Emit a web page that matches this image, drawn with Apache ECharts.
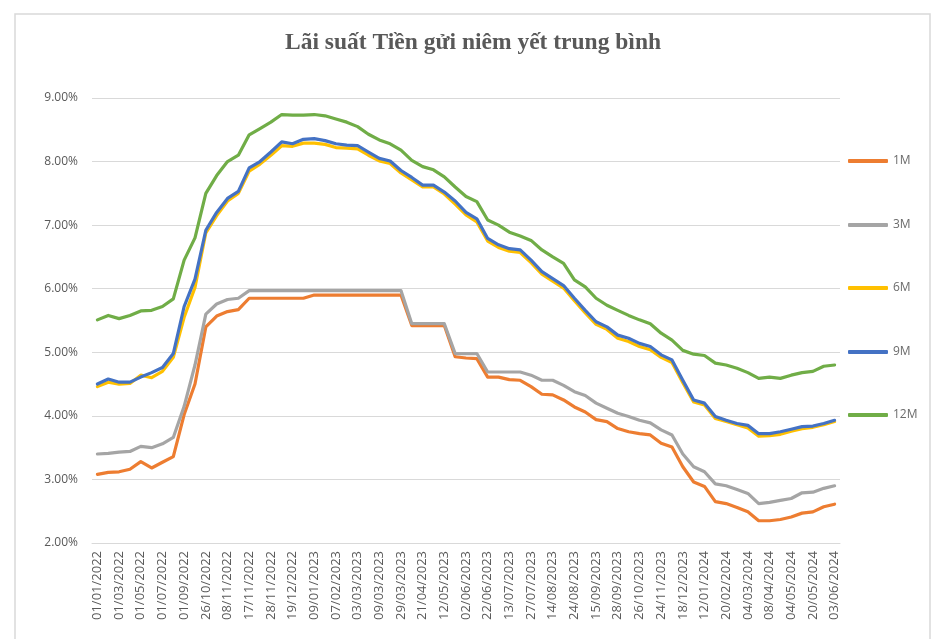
<!DOCTYPE html>
<html>
<head>
<meta charset="utf-8">
<script src="https://cdn.jsdelivr.net/npm/echarts@6/dist/echarts.min.js"></script>
<style>
html,body{margin:0;padding:0;background:#fff;}
#chart{width:935px;height:639px;}
</style>
</head>
<body>
<div id="chart"></div>
<script>
const categories = [
 '01/01/2022','01/02/2022','01/03/2022','01/04/2022','01/05/2022','01/06/2022','01/07/2022','01/08/2022',
 '01/09/2022','01/10/2022','26/10/2022','01/11/2022','08/11/2022','14/11/2022','17/11/2022','22/11/2022',
 '28/11/2022','06/12/2022','19/12/2022','30/12/2022','09/01/2023','20/01/2023','07/02/2023','20/02/2023',
 '03/03/2023','06/03/2023','09/03/2023','17/03/2023','29/03/2023','10/04/2023','21/04/2023','02/05/2023',
 '12/05/2023','22/05/2023','02/06/2023','12/06/2023','22/06/2023','03/07/2023','13/07/2023','20/07/2023',
 '27/07/2023','04/08/2023','14/08/2023','19/08/2023','24/08/2023','05/09/2023','15/09/2023','21/09/2023',
 '28/09/2023','12/10/2023','26/10/2023','10/11/2023','24/11/2023','06/12/2023','18/12/2023','30/12/2023',
 '12/01/2024','01/02/2024','20/02/2024','27/02/2024','04/03/2024','20/03/2024','08/04/2024','20/04/2024',
 '04/05/2024','12/05/2024','20/05/2024','27/05/2024','03/06/2024'
];
const s1M = [3.08,3.11,3.12,3.16,3.28,3.18,3.27,3.36,4.02,4.50,5.40,5.57,5.64,5.67,5.85,5.85,5.85,5.85,5.85,5.85,
 5.90,5.90,5.90,5.90,5.90,5.90,5.90,5.90,5.90,5.42,5.42,5.42,5.42,4.93,4.91,4.90,4.61,4.61,4.57,4.56,
 4.46,4.34,4.33,4.25,4.14,4.06,3.94,3.91,3.80,3.75,3.72,3.70,3.57,3.51,3.20,2.96,2.89,2.65,2.62,2.56,
 2.49,2.35,2.35,2.37,2.41,2.47,2.49,2.57,2.61];
const s3M = [3.40,3.41,3.43,3.44,3.52,3.50,3.56,3.66,4.15,4.80,5.60,5.76,5.83,5.85,5.97,5.97,5.97,5.97,5.97,5.97,
 5.97,5.97,5.97,5.97,5.97,5.97,5.97,5.97,5.97,5.45,5.45,5.45,5.45,4.98,4.98,4.98,4.69,4.69,4.69,4.69,
 4.64,4.56,4.56,4.48,4.38,4.32,4.20,4.12,4.04,3.99,3.93,3.89,3.78,3.70,3.40,3.20,3.12,2.93,2.90,2.84,
 2.78,2.62,2.64,2.67,2.70,2.79,2.80,2.86,2.90];
const s6M = [4.46,4.53,4.50,4.51,4.64,4.60,4.70,4.92,5.55,6.02,6.88,7.15,7.38,7.50,7.85,7.96,8.10,8.25,8.24,8.29,
 8.29,8.27,8.22,8.21,8.20,8.10,8.01,7.97,7.82,7.71,7.60,7.60,7.49,7.33,7.16,7.05,6.75,6.65,6.59,6.57,
 6.41,6.23,6.12,6.01,5.81,5.62,5.44,5.36,5.22,5.17,5.09,5.04,4.92,4.84,4.52,4.22,4.17,3.96,3.91,3.86,
 3.81,3.68,3.69,3.71,3.76,3.80,3.82,3.86,3.91];
const s9M = [4.50,4.58,4.53,4.53,4.61,4.68,4.76,4.98,5.72,6.15,6.92,7.20,7.42,7.53,7.90,8.00,8.15,8.31,8.28,8.35,
 8.36,8.33,8.28,8.26,8.25,8.15,8.05,8.01,7.86,7.75,7.63,7.63,7.52,7.38,7.20,7.10,6.79,6.69,6.63,6.61,
 6.45,6.27,6.16,6.05,5.85,5.66,5.48,5.40,5.27,5.22,5.14,5.09,4.96,4.88,4.56,4.25,4.20,3.99,3.93,3.88,
 3.85,3.72,3.72,3.75,3.79,3.83,3.84,3.88,3.93];
const s12M = [5.51,5.58,5.53,5.58,5.65,5.66,5.72,5.84,6.45,6.80,7.50,7.78,8.00,8.10,8.42,8.52,8.62,8.74,8.73,8.73,
 8.74,8.72,8.67,8.62,8.55,8.43,8.34,8.28,8.18,8.02,7.92,7.87,7.76,7.60,7.45,7.37,7.08,7.00,6.89,6.83,
 6.76,6.61,6.50,6.40,6.14,6.03,5.85,5.74,5.66,5.58,5.51,5.45,5.30,5.19,5.03,4.97,4.95,4.83,4.80,4.75,
 4.68,4.59,4.61,4.59,4.64,4.68,4.70,4.78,4.80];
const seriesNames = ['1M','3M','6M','9M','12M'];
const seriesData = [s1M, s3M, s6M, s9M, s12M];
const colors = ['#ED7D31','#A5A5A5','#FFC000','#4472C4','#70AD47'];
const yTicks = [2,3,4,5,6,7,8,9];

const chart = echarts.init(document.getElementById('chart'), null, {renderer:'canvas'});
const legendY = [162, 226, 289, 353, 416];
const legends = seriesNames.map((n,i)=>({
  data:[n], orient:'vertical', left:848, top:legendY[i]-7, padding:0,
  itemWidth:40, itemHeight:4, icon:'roundRect', itemGap:0,
  textStyle:{color:'#6b6b6b', fontSize:12, fontFamily:'Open Sans'}
}));
chart.setOption({
  backgroundColor:'#fff',
  animation:false,
  color: colors,
  title:{
    text:'Lãi suất Tiền gửi niêm yết trung bình',
    left:285, top:31, padding:0,
    textStyle:{fontFamily:'Liberation Serif', fontWeight:'bold', fontSize:23.5, color:'#595959'}
  },
  legend: legends,
  graphic:[{type:'rect', shape:{x:15, y:14, width:915, height:640}, style:{fill:null, stroke:'#d9d9d9', lineWidth:1.5}, silent:true}],
  grid:{left:92, right:95, top:98, bottom:96},
  xAxis:{
    type:'category', data:categories, boundaryGap:true,
    axisLine:{show:true, lineStyle:{color:'#d9d9d9', width:1}},
    axisTick:{show:false},
    axisLabel:{interval:1, rotate:90, color:'#595959', fontSize:13, fontFamily:'Open Sans', margin:8}
  },
  yAxis:{
    type:'value', min:yTicks[0], max:yTicks[yTicks.length-1], interval:1,
    axisLine:{show:false}, axisTick:{show:false},
    splitLine:{lineStyle:{color:'#d9d9d9', width:1.2}},
    axisLabel:{color:'#595959', fontSize:12, fontFamily:'Open Sans', margin:14,
      formatter:v=>v.toFixed(2)+'%'}
  },
  series: seriesNames.map((n,i)=>({
    name:n, type:'line', data:seriesData[i], showSymbol:false, symbol:'none',
    lineStyle:{width:3.2, color:colors[i], cap:'round', join:'round'},
    itemStyle:{color:colors[i]}
  }))
});
</script>
</body>
</html>
